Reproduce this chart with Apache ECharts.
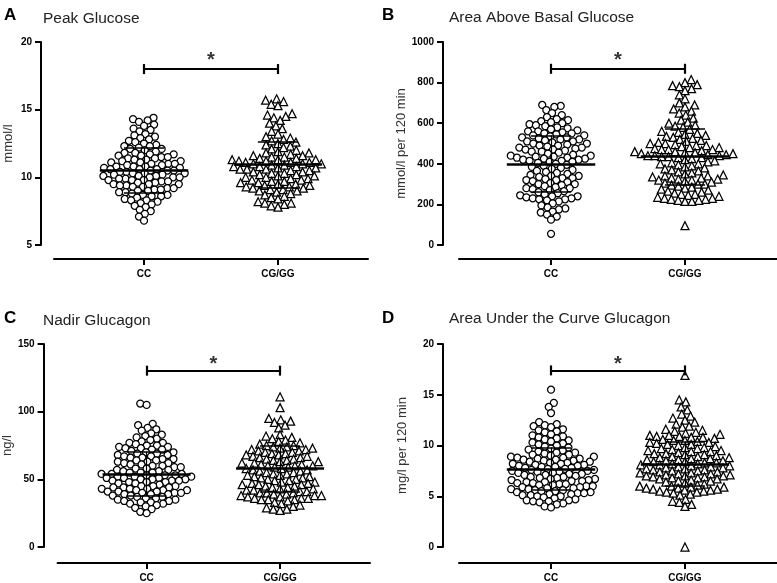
<!DOCTYPE html>
<html>
<head>
<meta charset="utf-8">
<script src="https://cdn.jsdelivr.net/npm/echarts@6/dist/echarts.min.js"></script>
<style>
  html, body { margin: 0; padding: 0; background: #fff; }
  #chart { width: 777px; height: 583px; }
</style>
</head>
<body>
<div id="chart"></div>
<script>
const categories = ['CC', 'CG/GG'];
const panelLetters = ['A', 'B', 'C', 'D'];
const panelTitles = ['Peak Glucose', 'Area Above Basal Glucose', 'Nadir Glucagon', 'Area Under the Curve Glucagon'];
const yNames = ['mmol/l', 'mmol/l per 120 min', 'ng/l', 'mg/l per 120 min'];
const yMin = [5, 0, 0, 0];
const yMax = [20, 1000, 150, 20];
const yStep = [5, 200, 50, 5];

// A - peak glucose (mmol/l)
const peakGlucoseCC = [14.4,14.3,14.2,14.1,13.9,13.8,13.6,13.5,13.4,13.2,13.1,13.0,12.9,12.8,12.7,12.6,12.5,
  12.4,12.3,12.3,12.2,12.1,12.1,12.0,11.9,11.8,11.8,11.7,11.7,11.6,11.6,11.5,11.5,
  11.4,11.4,11.3,11.3,11.2,11.2,11.1,11.1,11.0,11.0,11.0,
  10.9,10.9,10.8,10.8,10.8,10.7,10.7,10.6,10.6,10.6,10.5,10.5,10.5,
  10.4,10.4,10.3,10.3,10.3,10.2,10.2,10.1,10.1,10.1,10.0,10.0,10.0,
  9.9,9.9,9.8,9.8,9.8,9.7,9.7,9.6,9.6,9.5,9.5,9.5,
  9.4,9.4,9.3,9.3,9.2,9.2,9.1,9.1,9.0,9.0,
  8.9,8.9,8.8,8.7,8.7,8.6,8.6,8.5,8.4,8.3,8.3,8.2,8.1,8.0,7.9,7.8,7.6,7.5,7.3,7.1,6.8];
const peakGlucoseCG = [15.8,15.7,15.6,15.4,15.3,14.7,14.6,14.5,14.4,14.2,
  14.0,13.8,13.6,13.4,13.2,13.0,12.9,12.8,12.7,12.6,12.5,12.4,12.3,12.2,12.1,12.0,
  11.9,11.8,11.8,11.7,11.6,11.6,11.5,11.5,11.4,11.4,11.3,11.3,11.3,
  11.2,11.2,11.1,11.1,11.1,11.0,11.0,11.0,
  10.9,10.9,10.8,10.8,10.8,10.7,10.7,10.6,10.6,10.6,10.5,10.5,
  10.4,10.4,10.3,10.3,10.2,10.2,10.1,10.1,10.0,10.0,
  9.9,9.9,9.8,9.8,9.7,9.7,9.6,9.6,9.5,9.5,9.4,9.4,9.3,9.3,9.2,9.2,9.1,9.1,9.0,9.0,
  8.9,8.8,8.7,8.6,8.5,8.4,8.2,8.1,8.1,8.0,7.9,7.8];

// B - area above basal glucose (mmol/l per 120 min)
const aboveBasalCC = [690,685,680,665,650,640,630,
  620,615,610,605,600,595,590,585,580,575,570,565,560,560,555,550,550,
  545,540,540,535,530,530,525,520,520,515,510,510,505,500,500,495,490,490,485,480,480,475,470,470,465,460,460,455,
  450,445,440,440,435,435,430,430,425,425,420,420,415,415,410,410,
  405,400,395,390,385,380,375,370,365,
  360,355,350,345,340,340,335,330,330,325,320,320,315,310,305,300,300,295,290,285,280,280,275,270,265,260,
  255,250,245,240,240,235,230,230,225,225,220,215,
  205,195,185,180,175,165,160,150,140,125,55];
const aboveBasalCG = [815,800,790,785,780,770,760,740,720,700,690,680,670,660,650,640,
  625,615,605,600,590,585,580,570,
  560,555,550,545,540,535,530,525,520,515,510,505,500,500,495,490,490,485,480,480,475,470,470,470,
  465,460,460,455,455,450,450,445,445,440,440,440,435,435,430,430,
  425,420,415,410,405,400,400,395,390,385,380,375,370,365,360,355,350,345,340,340,335,330,330,325,325,320,320,315,310,305,
  300,300,295,290,285,280,275,270,265,260,255,250,250,245,240,235,230,230,225,225,220,220,215,215,95];

// C - nadir glucagon (ng/l)
const nadirGlucagonCC = [106,105,91,90,88,87,86,84,83,82,81,
  80,79,78,77,77,76,75,75,74,74,73,73,72,72,71,
  70,70,69,69,68,68,67,67,66,66,65,65,64,64,63,63,62,62,61,61,60,60,59,59,58,58,57,57,56,56,
  55,55,55,54,54,54,53,53,53,52,52,52,51,51,51,50,50,50,49,49,49,48,48,48,47,47,46,
  45,45,45,44,44,44,43,43,43,42,42,42,41,41,41,40,40,40,39,39,39,
  38,38,37,37,36,36,35,35,34,34,33,33,32,32,31,30,29,28,26,25];
const nadirGlucagonCG = [111,103,95,94,93,92,90,88,83,82,81,80,79,78,77,76,
  75,75,74,74,73,73,72,72,71,71,70,70,69,69,68,68,67,67,66,66,65,65,64,64,63,63,62,62,61,61,60,60,60,59,59,
  58,58,57,57,56,56,55,55,54,54,53,53,52,52,51,51,50,50,49,49,48,48,47,47,46,46,46,45,
  45,44,44,43,43,42,42,41,41,40,40,40,39,39,38,38,38,37,37,36,36,36,35,35,35,34,
  33,32,31,30,29,28,28,27];

// D - area under the curve glucagon (mg/l per 120 min)
const aucGlucagonCC = [15.5,14.2,13.8,13.2,
  12.3,12.1,12.0,11.9,11.8,11.6,11.5,11.4,11.3,11.1,11.0,10.9,
  10.8,10.7,10.6,10.5,10.4,10.3,10.2,10.1,10.0,9.9,9.8,9.7,9.6,9.5,
  9.4,9.3,9.3,9.2,9.1,9.1,9.0,8.9,8.9,8.8,8.8,8.7,8.7,8.6,8.6,8.5,8.5,8.4,8.4,
  8.3,8.3,8.2,8.2,8.1,8.1,8.0,8.0,7.9,7.9,7.8,7.8,7.7,7.7,7.6,7.6,7.5,7.5,7.4,7.4,7.3,7.3,7.2,7.2,7.1,7.1,7.0,
  6.9,6.9,6.8,6.8,6.7,6.7,6.6,6.6,6.5,6.5,6.4,6.4,6.3,6.3,6.2,6.2,6.1,6.1,6.0,6.0,5.9,5.9,5.8,5.8,5.7,5.7,
  5.6,5.6,5.5,5.5,5.4,5.4,5.3,5.3,5.2,5.2,5.1,5.1,5.0,5.0,4.9,4.8,4.7,
  4.6,4.6,4.5,4.5,4.4,4.3,4.2,4.0,3.9];
const aucGlucagonCG = [16.9,14.5,14.3,13.8,13.5,
  13.1,12.9,12.7,12.5,12.3,12.1,11.9,11.8,11.6,11.5,11.4,11.3,
  11.2,11.1,11.0,11.0,10.9,10.9,10.8,10.8,10.7,10.6,10.5,10.5,10.4,10.3,10.3,10.2,10.1,10.1,10.0,9.9,
  9.8,9.8,9.7,9.7,9.6,9.5,9.5,9.4,9.4,9.3,9.2,9.2,9.1,9.1,9.0,8.9,8.9,8.8,8.8,8.7,8.7,8.6,8.6,8.5,8.5,8.4,8.4,8.3,
  8.3,8.2,8.2,8.1,8.1,8.0,8.0,7.9,7.9,7.8,7.8,7.7,7.7,7.6,7.6,7.5,7.5,7.4,7.4,7.3,7.3,7.2,7.2,7.1,7.1,7.0,7.0,7.0,
  6.9,6.9,6.8,6.8,6.7,6.7,6.6,6.5,6.5,6.4,6.3,6.2,6.1,6.0,6.0,5.9,5.9,5.8,5.8,5.7,5.7,5.6,5.6,5.5,5.5,5.4,5.4,5.3,5.2,5.1,
  4.7,4.5,4.4,4.2,4.0,0.0];

// mean and SD, [CC, CG/GG]
const groupMeans = [[10.5, 10.95], [400, 435], [54, 58], [7.7, 8.2]];
const groupSDs = [[1.66, 1.7], [140, 140], [16.4, 17], [2.1, 2.2]];
// significance bracket level and star level
const bracketY = [18.0, 868, 130.3, 17.4];
const starY = [18.9, 927, 138, 18.4];

const groupValues = [
  [peakGlucoseCC, peakGlucoseCG],
  [aboveBasalCC, aboveBasalCG],
  [nadirGlucagonCC, nadirGlucagonCG],
  [aucGlucagonCC, aucGlucagonCG]
];

const FONT = 'Liberation Sans, Arial, sans-serif';
const layout = [
  { left: 54, top: 42, width: 314, height: 203, xMin: -0.672, xMax: 1.672, yOff: 13, xOff: 14, nameGap: 26, lx: 4, ly: 7, tx: 43, ty: 11 },
  { left: 459, top: 42, width: 318, height: 203, xMin: -0.687, xMax: 1.687, yOff: 16, xOff: 14, nameGap: 34, lx: 382, ly: 7, tx: 449, ty: 10 },
  { left: 54, top: 344, width: 316, height: 204, xMin: -0.667, xMax: 1.674, yOff: 14, xOff: 16, nameGap: 26, lx: 4, ly: 310, tx: 43, ty: 313 },
  { left: 459, top: 344, width: 318, height: 204, xMin: -0.687, xMax: 1.687, yOff: 16, xOff: 16, nameGap: 34, lx: 382, ly: 310, tx: 449, ty: 311 }
];

const chart = echarts.init(document.getElementById('chart'), null, { renderer: 'canvas' });

function lineItem(x1, y1, x2, y2, w) {
  const ls = { width: w, color: '#000', type: 'solid' };
  return [{ coord: [x1, y1], lineStyle: ls }, { coord: [x2, y2], lineStyle: ls }];
}

function overlayLines(g) {
  const tick = (yMax[g] - yMin[g]) * 5 / layout[g].height;
  const items = [];
  [0, 1].forEach(c => {
    const m = groupMeans[g][c], s = groupSDs[g][c];
    items.push(lineItem(c - 0.33, m, c + 0.33, m, 2.5));
    items.push(lineItem(c - 0.15, m + s, c + 0.15, m + s, 1.5));
    items.push(lineItem(c - 0.15, m - s, c + 0.15, m - s, 1.5));
    items.push(lineItem(c, m - s, c, m + s, 1.2));
  });
  const b = bracketY[g];
  items.push(lineItem(0, b, 1, b, 2.2));
  items.push(lineItem(0, b - tick, 0, b + tick, 2.2));
  items.push(lineItem(1, b - tick, 1, b + tick, 2.2));
  return items;
}

const grid = layout.map(l => ({ left: l.left, top: l.top, width: l.width, height: l.height }));
const xAxis = layout.map((l, g) => ({
  type: 'value', gridIndex: g, min: l.xMin, max: l.xMax, offset: l.xOff,
  splitLine: { show: false },
  axisLine: { show: true, onZero: false, lineStyle: { color: '#000', width: 2 } },
  axisTick: { show: true, customValues: [0, 1], length: 6, inside: false, lineStyle: { color: '#000', width: 2 } },
  axisLabel: {
    customValues: [0, 1], formatter: v => categories[Math.round(v)], margin: 10,
    color: '#000', fontWeight: 'bold', fontSize: 10, fontFamily: FONT
  }
}));
const yAxis = layout.map((l, g) => ({
  type: 'value', gridIndex: g, min: yMin[g], max: yMax[g], interval: yStep[g], offset: l.yOff,
  name: yNames[g], nameLocation: 'middle', nameGap: l.nameGap,
  nameTextStyle: { color: '#333', fontSize: 13, fontFamily: FONT },
  splitLine: { show: false },
  axisLine: { show: true, onZero: false, lineStyle: { color: '#000', width: 2 } },
  axisTick: { show: true, length: 6, lineStyle: { color: '#000', width: 2 } },
  axisLabel: { color: '#000', fontWeight: 'bold', fontSize: 10, fontFamily: FONT, margin: 9, formatter: v => String(v) }
}));

const title = [];
layout.forEach((l, g) => {
  title.push({ text: panelLetters[g], left: l.lx, top: l.ly, padding: 0,
    textStyle: { fontSize: 17, fontWeight: 'bold', color: '#000', fontFamily: FONT } });
  title.push({ text: panelTitles[g], left: l.tx, top: l.ty, padding: 0,
    textStyle: { fontSize: 15.5, fontWeight: 'normal', color: '#222', fontFamily: FONT } });
});

function buildSeries(xs) {
  const series = [];
  groupValues.forEach((pair, g) => {
    pair.forEach((vals, c) => {
      series.push({
        id: 'pts-' + g + '-' + c,
        type: 'scatter', xAxisIndex: g, yAxisIndex: g, clip: false, animation: false,
        symbol: c === 0 ? 'circle' : 'triangle',
        symbolSize: c === 0 ? 7 : 8,
        itemStyle: { color: '#fff', borderColor: '#000', borderWidth: 1.25, opacity: 1 },
        data: vals.map((v, i) => [xs ? xs[g][c][i] : c, v]),
        z: 2
      });
    });
    series.push({
      id: 'overlay-' + g,
      type: 'scatter', xAxisIndex: g, yAxisIndex: g, clip: false, animation: false,
      symbolSize: 0, silent: true,
      data: [[0.5, starY[g]]],
      label: { show: true, position: 'inside', offset: [0, 4], formatter: '*', fontSize: 20, fontWeight: 'bold', color: '#000', fontFamily: FONT },
      markLine: { silent: true, symbol: 'none', animation: false, z: 10, label: { show: false },
        data: overlayLines(g) },
      z: 10
    });
  });
  return series;
}

chart.setOption({
  animation: false,
  backgroundColor: '#fff',
  title, grid, xAxis, yAxis,
  series: buildSeries(null)
});

// beeswarm layout in pixel space, converted back to axis units
function swarm(ys, d) {
  const order = ys.map((y, i) => i).sort((a, b) => ys[b] - ys[a] || a - b);
  const placed = [];
  const out = new Array(ys.length);
  let flip = 1;
  order.forEach(i => {
    const y = ys[i];
    const blocks = [];
    placed.forEach(p => {
      const dy = Math.abs(p.y - y);
      if (dy < d) {
        const w = Math.sqrt(d * d - dy * dy);
        blocks.push([p.x - w, p.x + w]);
      }
    });
    const cands = [0];
    blocks.forEach(b => { cands.push(b[0], b[1]); });
    cands.sort((a, b) => (Math.abs(a) - Math.abs(b)) || (flip * (b - a)));
    let x = 0;
    for (const cnd of cands) {
      if (blocks.every(b => cnd <= b[0] + 1e-6 || cnd >= b[1] - 1e-6)) { x = cnd; break; }
    }
    flip = -flip;
    placed.push({ x, y });
    out[i] = x;
  });
  return out;
}

const xs = groupValues.map((pair, g) => {
  const p0 = chart.convertToPixel({ xAxisIndex: g, yAxisIndex: g }, [0, yMin[g]]);
  const p1 = chart.convertToPixel({ xAxisIndex: g, yAxisIndex: g }, [1, yMin[g]]);
  const unit = p1[0] - p0[0];
  return pair.map((vals, c) => {
    const ys = vals.map(v => chart.convertToPixel({ xAxisIndex: g, yAxisIndex: g }, [c, v])[1]);
    const off = swarm(ys, c === 0 ? 6.5 : 6.9);
    return off.map(o => c + o / unit);
  });
});

chart.setOption({ series: buildSeries(xs) });
</script>
</body>
</html>
